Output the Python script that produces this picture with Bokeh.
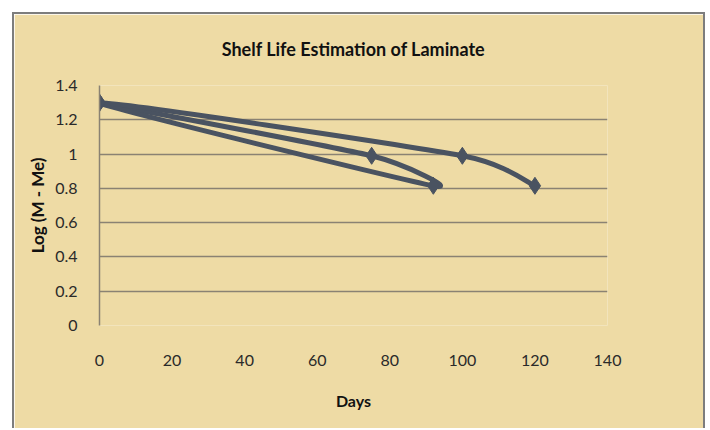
from bokeh.plotting import figure
from bokeh.models import Range1d, FixedTicker, ColumnDataSource, Title
from bokeh.embed import file_html
from bokeh.resources import INLINE

# ---- data ----
days = [0, 75, 92, 0, 100, 120]
log_m_me = [1.3, 0.99, 0.815, 1.3, 0.99, 0.815]
x_ticks = [0, 20, 40, 60, 80, 100, 120, 140]
y_ticks = [0, 0.2, 0.4, 0.6, 0.8, 1, 1.2, 1.4]
y_tick_labels = ["0", "0.2", "0.4", "0.6", "0.8", "1", "1.2", "1.4"]
title_text = "Shelf Life Estimation of Laminate"

PARCH = "#EEDBA5"
LINE = "#4A5361"
GRID = "#8A8273"
FONT = "Lato"

p = figure(
    frame_width=508, frame_height=240,
    min_border_left=85, min_border_top=71, min_border_right=96, min_border_bottom=103,
    x_range=Range1d(0, 140), y_range=Range1d(0, 1.4),
    output_backend="svg", toolbar_location=None,
    background_fill_color=PARCH, border_fill_color=PARCH,
)
p.margin = (12, 0, 0, 12)
p.styles = {"border-top": "2px solid #7d7d7d", "border-left": "2px solid #7d7d7d",
            "border-right": "2px solid #7d7d7d"}
p.outline_line_color = None

# spacer between plot area and title, then the title itself (stacked outward)
p.add_layout(Title(text=" ", text_font_size="18px", standoff=4), "above")
p.add_layout(Title(text=title_text, align="center", standoff=0,
                   text_font=FONT, text_font_size="18px", text_font_style="bold",
                   text_color="#111111"), "above")

# axes
p.xaxis.ticker = FixedTicker(ticks=x_ticks)
p.yaxis.ticker = FixedTicker(ticks=y_ticks)
p.yaxis.major_label_overrides = {v: s for v, s in zip(y_ticks, y_tick_labels)}
for ax in (p.xaxis[0], p.yaxis[0]):
    ax.major_tick_line_color = None
    ax.minor_tick_line_color = None
    ax.major_label_text_font = FONT
    ax.major_label_text_font_size = "16px"
    ax.major_label_text_color = "#2a2a2a"
    ax.axis_label_text_font = FONT
    ax.axis_label_text_font_style = "bold"
    ax.axis_label_text_font_size = "16px"
    ax.axis_label_text_color = "#111111"
p.yaxis.axis_label_text_font_size = "17px"
p.xaxis.axis_line_color = None
p.yaxis.axis_line_color = GRID
p.yaxis.axis_line_width = 1.5
p.xaxis.major_label_standoff = 23
p.yaxis.major_label_standoff = 16
p.xaxis.axis_label = "Days"
p.yaxis.axis_label = "Log (M - Me)"
p.xaxis.axis_label_standoff = 22
p.yaxis.axis_label_standoff = 4

p.xgrid.grid_line_color = None
p.ygrid.grid_line_color = GRID
p.ygrid.grid_line_width = 1.5

# smoothed line (Bezier segments with control points from neighbouring data points)
k = 0.1
n = len(days)
tx, ty = [], []
for i in range(n):
    a = max(i - 1, 0)
    b = min(i + 1, n - 1)
    tx.append((days[b] - days[a]) * k)
    ty.append((log_m_me[b] - log_m_me[a]) * k)
seg = dict(x0=[], y0=[], x1=[], y1=[], cx0=[], cy0=[], cx1=[], cy1=[])
for i in range(n - 1):
    seg["x0"].append(days[i]); seg["y0"].append(log_m_me[i])
    seg["x1"].append(days[i + 1]); seg["y1"].append(log_m_me[i + 1])
    seg["cx0"].append(days[i] + tx[i]); seg["cy0"].append(log_m_me[i] + ty[i])
    seg["cx1"].append(days[i + 1] - tx[i + 1]); seg["cy1"].append(log_m_me[i + 1] - ty[i + 1])
p.bezier(x0="x0", y0="y0", x1="x1", y1="y1", cx0="cx0", cy0="cy0", cx1="cx1", cy1="cy1",
         source=ColumnDataSource(seg), line_color=LINE, line_width=5)

p.scatter(days, log_m_me, marker="diamond", size=17, fill_color=LINE, line_color=LINE)

open("out.html", "w").write(file_html(p, INLINE))
